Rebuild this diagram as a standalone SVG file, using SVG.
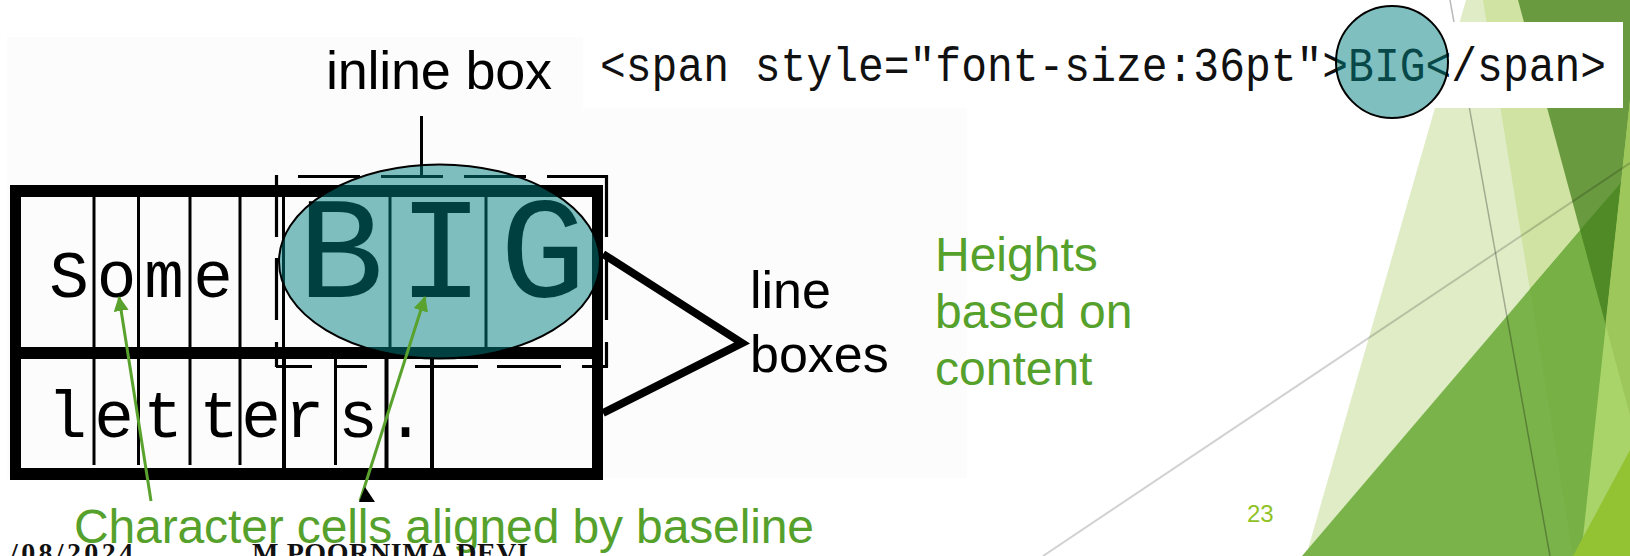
<svg xmlns="http://www.w3.org/2000/svg" width="1630" height="556" viewBox="0 0 1630 556">
<style>
.k{fill:#000}
.cl{stroke:#000;stroke-width:3;fill:none}
.dash{stroke:#000;stroke-width:3.2;fill:none}
.mono{font-family:"Liberation Mono","DejaVu Sans Mono",monospace}
.sans{font-family:"Liberation Sans",Arial,sans-serif}
.serifb{font-family:"Liberation Serif","Times New Roman",serif;font-weight:bold;fill:#111}
.gt{fill:#55a12c}
.teal{fill:#008080;fill-opacity:0.5;stroke:#000;stroke-width:2}
.garrow{stroke:#5aa22e;stroke-width:3;fill:none}
</style>
<defs>
<marker id="ah" markerUnits="userSpaceOnUse" markerWidth="16" markerHeight="16" refX="14" refY="7.5" orient="auto">
<path d="M0,0 L15,7.5 L0,15 z" fill="#5aa22e"/>
</marker>
</defs>
<rect width="1630" height="556" fill="#fff"/>
<g id="decoration">
<polygon points="1466,0 1630,0 1630,556 1306,556" fill="#dfecc6"/>
<polygon points="1483,0 1630,0 1630,556 1573,556" fill="#d0e3a2"/>
<polygon points="1518,0 1630,0 1630,415" fill="#6a9a3f"/>
<polygon points="1302,556 1630,172 1630,556" fill="#7bb34b"/>
<polygon points="1530,289 1630,172 1630,556 1573,556" fill="#77b045"/>
<polygon points="1580,230 1630,172 1630,415" fill="#4f8a26"/>
<polygon points="1630,100 1581,556 1630,556" fill="#a9d46a"/>
<polygon points="1630,100 1605.5,324 1630,415" fill="#9dc65b"/>
<polygon points="1573,556 1630,450 1630,556" fill="#93c232"/>
<line x1="1450" y1="0" x2="1550" y2="556" stroke="#000" stroke-opacity="0.28" stroke-width="1.5"/>
<line x1="1043" y1="556" x2="1630" y2="163" stroke="#000" stroke-opacity="0.18" stroke-width="2"/>
</g>
<rect id="figure-bg" x="7" y="37" width="960" height="441" fill="#fcfcfc"/>
<g id="code">
<rect x="583" y="22" width="1040" height="86" fill="#fff"/>
<text class="mono" transform="translate(600,81) scale(1,1.12)" x="0" y="0" font-size="43" fill="#111">&lt;span style="font-size:36pt"&gt;BIG&lt;/span&gt;</text>
<circle class="teal" cx="1392" cy="62" r="56"/>
</g>
<g id="boxes">
<rect class="k" x="10" y="185" width="593" height="12"/>
<rect class="k" x="10" y="347" width="593" height="12"/>
<rect class="k" x="10" y="468" width="593" height="12"/>
<rect class="k" x="10" y="185" width="11" height="295"/>
<rect class="k" x="592" y="185" width="11" height="295"/>
<g class="cl">
<path d="M94,197V347M138.5,197V347M190,197V347M240,197V347M283.5,197V347M390,197V347M486,197V347"/>
<path d="M94,359V465M138.5,359V465M190,359V465M240,359V465M335.5,359V465"/>
<path d="M284,359V468M386.5,359V468M432,359V468" stroke-width="4"/>
</g>
<text class="mono" font-size="66" y="297" x="69 116.5 164 213" text-anchor="middle">Some</text>
<text class="mono" font-size="66" y="437" x="67 114 163 219 261 304.5 358 405.5" text-anchor="middle">letters.</text>
<text class="mono" font-size="144" y="297" x="340.6 441 543" text-anchor="middle">BIG</text>
</g>
<g id="inline-box">
<line class="dash" x1="298" y1="176.5" x2="608" y2="176.5" stroke-dasharray="62 21"/>
<line class="dash" x1="276.5" y1="175" x2="276.5" y2="367" stroke-dasharray="62 21 62 22 25"/>
<line class="dash" x1="606.5" y1="175" x2="606.5" y2="367" stroke-dasharray="62 21 62 22 25"/>
<line class="dash" x1="276" y1="366.5" x2="608" y2="366.5" stroke-dasharray="36 25 30 48 63 19 64 21 26"/>
</g>
<g id="connectors">
<line x1="421.5" y1="116" x2="421.5" y2="177" stroke="#000" stroke-width="3"/>
<polyline points="603,254 742,343 603,413" fill="none" stroke="#000" stroke-width="8" stroke-linejoin="miter"/>
</g>
<ellipse id="big-highlight" class="teal" cx="439.5" cy="261.5" rx="160.5" ry="97"/>
<g id="labels">
<text class="sans" x="326" y="89" font-size="54" textLength="226">inline box</text>
<text class="sans" x="750" y="308" font-size="52">line</text>
<text class="sans" x="750" y="372" font-size="52">boxes</text>
<text class="sans gt" x="935" y="271" font-size="48">Heights</text>
<text class="sans gt" x="935" y="328" font-size="48">based on</text>
<text class="sans gt" x="935" y="385" font-size="48">content</text>
<text class="sans gt" x="74" y="543" font-size="48" textLength="740">Character cells aligned by baseline</text>
<text class="sans" x="1247" y="522" font-size="24" fill="#90c226">23</text>
</g>
<g id="arrows">
<line class="garrow" x1="151" y1="501" x2="119" y2="297" marker-end="url(#ah)"/>
<line class="garrow" x1="360" y1="501" x2="425" y2="297" marker-end="url(#ah)"/>
<polygon points="365,487 359,502 375,502" fill="#000"/>
</g>
<g id="footer">
<text class="serifb" x="10" y="562" font-size="28" textLength="123">/08/2024</text>
<text class="serifb" x="252" y="562" font-size="28" textLength="276">M POORNIMA DEVI</text>
</g>
</svg>
